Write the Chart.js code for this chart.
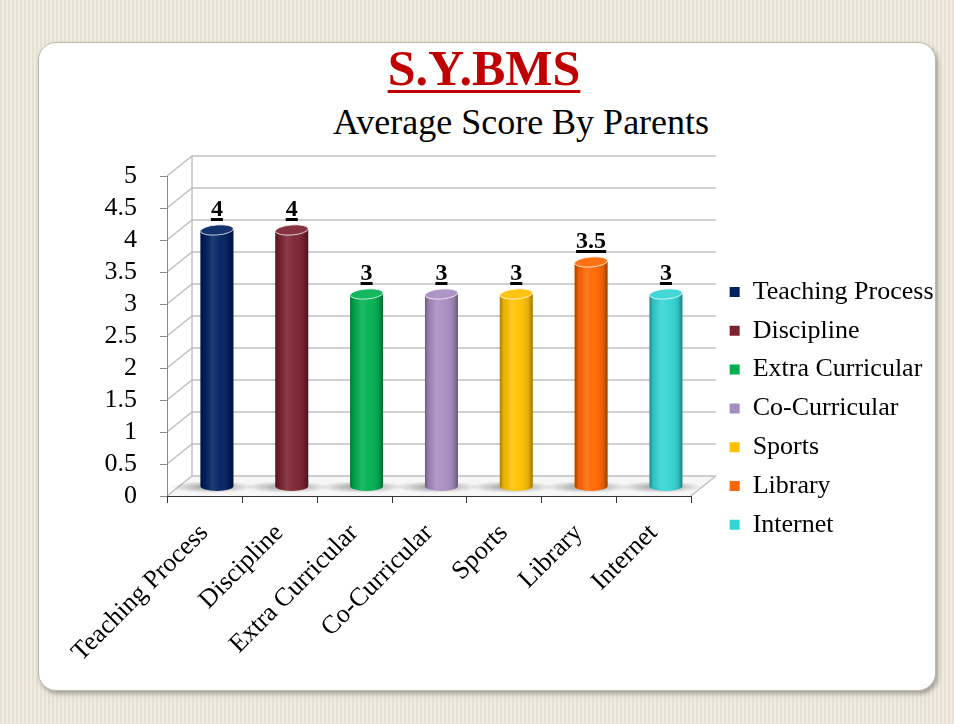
<!DOCTYPE html>
<html>
<head>
<meta charset="utf-8">
<title>S.Y.BMS - Average Score By Parents</title>
<script src="https://cdn.jsdelivr.net/npm/chart.js@4.4.0/dist/chart.umd.min.js"></script>
<style>
  html, body { margin: 0; padding: 0; }
  body {
    width: 954px; height: 724px; overflow: hidden; position: relative;
    background-color: #e9e4d7;
    background-image: repeating-linear-gradient(90deg, #e6e1d3 0 2px, #efebe2 2px 4px);
  }
  #card {
    position: absolute; left: 38px; top: 42px; width: 896px; height: 647px;
    background: #fff; border: 1px solid #bdb9b0; border-radius: 18px;
    box-shadow: 2px 3px 4px rgba(0,0,0,0.3);
  }
  .ttl { position: absolute; left: 0; width: 954px; white-space: nowrap; font-family: 'Liberation Serif', 'Times New Roman', serif; }
  #main { top: 43px; font-size: 50px; line-height: 50px; font-weight: bold; color: #c00000; }
  #main span { position: absolute; left: 484px; transform: translateX(-50%); text-decoration: underline; text-decoration-thickness: 3px; text-underline-offset: 5px; }
  #sub { top: 104px; font-size: 36px; line-height: 36px; color: #000; }
  #sub span { position: absolute; left: 521px; transform: translateX(-50%); }
  #chart { position: absolute; left: 0; top: 0; }
</style>
</head>
<body>
<div id="card"></div>
<div class="ttl" id="main"><span>S.Y.BMS</span></div>
<div class="ttl" id="sub"><span>Average Score By Parents</span></div>
<canvas id="chart" width="954" height="724"></canvas>
<script>
const categories = ["Teaching Process", "Discipline", "Extra Curricular", "Co-Curricular", "Sports", "Library", "Internet"];
const scores = [4, 4, 3, 3, 3, 3.5, 3];
const scoreLabels = ["4", "4", "3", "3", "3", "3.5", "3"];
const yTickLabels = ["0", "0.5", "1", "1.5", "2", "2.5", "3", "3.5", "4", "4.5", "5"];
const barColors = ["#002060", "#7b2230", "#00b050", "#a68dc0", "#ffc000", "#ff6600", "#33d4d4"];

const depth = { dx: 25, dy: -20 }; // offset of back wall
const serif = "'Liberation Serif', 'Times New Roman', serif";

function shade(hex, amt) {
    const n = parseInt(hex.slice(1), 16);
    let r = n >> 16, g = (n >> 8) & 255, b = n & 255;
    const t = amt < 0 ? 0 : 255, p = Math.abs(amt);
    r = Math.round((t - r) * p + r);
    g = Math.round((t - g) * p + g);
    b = Math.round((t - b) * p + b);
    return `rgb(${r},${g},${b})`;
}

function line(ctx, x1, y1, x2, y2) {
    ctx.beginPath();
    ctx.moveTo(x1, y1);
    ctx.lineTo(x2, y2);
    ctx.stroke();
}

const wallPlugin = {
    id: "wall",
    beforeDatasetsDraw(chart) {
        const { ctx, chartArea: a, scales: { y } } = chart;
        const { dx, dy } = depth;
        const yTop = y.getPixelForValue(5);
        ctx.save();

        // floor
        ctx.beginPath();
        ctx.moveTo(a.left, a.bottom);
        ctx.lineTo(a.right, a.bottom);
        ctx.lineTo(a.right + dx, a.bottom + dy);
        ctx.lineTo(a.left + dx, a.bottom + dy);
        ctx.closePath();
        ctx.fillStyle = "#f6f6f6";
        ctx.fill();

        // back wall grid + side slants
        ctx.strokeStyle = "#c0c0c0";
        ctx.lineWidth = 1.5;
        y.ticks.forEach(t => {
            const py = y.getPixelForValue(t.value);
            ctx.beginPath();
            ctx.moveTo(a.left, py);
            ctx.lineTo(a.left + dx, py + dy);
            ctx.lineTo(a.right + dx, py + dy);
            ctx.stroke();
        });
        line(ctx, a.left + dx, yTop + dy, a.left + dx, a.bottom + dy);
        line(ctx, a.right, a.bottom, a.right + dx, a.bottom + dy);

        // front axes
        ctx.lineWidth = 1;
        ctx.strokeStyle = "#8a8a8a";
        line(ctx, a.left + 0.5, yTop, a.left + 0.5, a.bottom);
        y.ticks.forEach(t => {
            const py = Math.round(y.getPixelForValue(t.value)) + 0.5;
            line(ctx, a.left - 7, py, a.left, py);
        });
        ctx.strokeStyle = "#333";
        line(ctx, a.left, a.bottom + 0.5, a.right, a.bottom + 0.5);
        const cw = (a.right - a.left) / categories.length;
        for (let i = 0; i <= categories.length; i++) {
            const px = Math.round(a.left + i * cw) + 0.5;
            line(ctx, px, a.bottom, px, a.bottom + 7);
        }

        // bar shadows on the floor
        chart.getDatasetMeta(0).data.forEach(bar => {
            ctx.save();
            ctx.translate(bar.x + dx / 2 - 5, bar.base + dy / 2 + 1);
            ctx.scale(1, 0.14);
            const g = ctx.createRadialGradient(0, 0, 0, 0, 0, 42);
            g.addColorStop(0, "rgba(0,0,0,0.4)");
            g.addColorStop(1, "rgba(0,0,0,0)");
            ctx.fillStyle = g;
            ctx.beginPath();
            ctx.arc(0, 0, 42, 0, Math.PI * 2);
            ctx.fill();
            ctx.restore();
        });
        ctx.restore();
    },
    beforeDatasetDraw(chart) {
        chart.ctx.save();
        chart.ctx.translate(depth.dx / 2, depth.dy / 2);
    },
    afterDatasetDraw(chart, args) {
        const ctx = chart.ctx;
        args.meta.data.forEach((bar, i) => {
            const c = barColors[i];
            const w = bar.width, l = bar.x - w / 2, r = bar.x + w / 2, ry = 5;
            // rounded bottom
            ctx.fillStyle = c;
            ctx.beginPath();
            ctx.ellipse(bar.x, bar.base, w / 2, ry, 0, 0, Math.PI);
            ctx.fill();
            // cylinder shading
            const g = ctx.createLinearGradient(l, 0, r, 0);
            g.addColorStop(0, "rgba(0,0,0,0.35)");
            g.addColorStop(0.12, "rgba(0,0,0,0.08)");
            g.addColorStop(0.35, "rgba(255,255,255,0.12)");
            g.addColorStop(0.6, "rgba(255,255,255,0.04)");
            g.addColorStop(0.88, "rgba(0,0,0,0.12)");
            g.addColorStop(1, "rgba(0,0,0,0.4)");
            ctx.fillStyle = g;
            ctx.beginPath();
            ctx.moveTo(l, bar.y);
            ctx.lineTo(l, bar.base);
            ctx.ellipse(bar.x, bar.base, w / 2, ry, 0, Math.PI, 0, true);
            ctx.lineTo(r, bar.y);
            ctx.closePath();
            ctx.fill();
            // top cap
            ctx.fillStyle = shade(c, 0.08);
            ctx.strokeStyle = "rgba(255,255,255,0.75)";
            ctx.lineWidth = 1;
            ctx.beginPath();
            ctx.ellipse(bar.x, bar.y, w / 2, ry, -0.08, 0, Math.PI * 2);
            ctx.fill();
            ctx.stroke();
        });
        ctx.restore();
    },
    afterDatasetsDraw(chart) {
        const ctx = chart.ctx;
        ctx.save();
        ctx.font = `bold 24px ${serif}`;
        ctx.fillStyle = "#000";
        ctx.textAlign = "center";
        ctx.textBaseline = "alphabetic";
        chart.getDatasetMeta(0).data.forEach((bar, i) => {
            const tx = bar.x + depth.dx / 2, ty = bar.y + depth.dy / 2 - 14;
            const txt = scoreLabels[i];
            ctx.fillText(txt, tx, ty);
            const tw = ctx.measureText(txt).width;
            ctx.fillRect(tx - tw / 2, ty + 2, tw, 3);
        });
        ctx.restore();
    }
};

new Chart(document.getElementById("chart"), {
    type: "bar",
    data: {
        labels: categories,
        datasets: [{
            data: scores,
            backgroundColor: barColors,
            borderWidth: 0,
            barPercentage: 0.44,
            categoryPercentage: 1,
            clip: false
        }]
    },
    options: {
        responsive: false,
        animation: false,
        layout: { padding: { left: 0, top: 176, right: 10.5, bottom: 48 } },
        plugins: {
            title: { display: false },
            tooltip: { enabled: false },
            legend: {
                position: "right",
                align: "start",
                maxWidth: 240,
                title: { display: true, text: "", font: { size: 12 }, padding: { top: 75.8, bottom: 0 } },
                labels: {
                    boxWidth: 10,
                    boxHeight: 10,
                    padding: 12.8,
                    color: "#000",
                    font: { family: serif, size: 26 },
                    generateLabels: () => categories.map((c, i) => ({
                        text: c, fillStyle: barColors[i], strokeStyle: barColors[i],
                        fontColor: "#000", lineWidth: 0, hidden: false, index: i
                    }))
                }
            }
        },
        scales: {
            x: {
                offset: true,
                grid: { display: false },
                border: { display: false },
                ticks: {
                    color: "#000",
                    font: { family: serif, size: 26 },
                    minRotation: 45,
                    maxRotation: 45,
                    padding: 14
                },
                afterFit(s) { s.height = 180; }
            },
            y: {
                min: 0,
                max: 5,
                grid: { display: false },
                border: { display: false },
                ticks: {
                    stepSize: 0.5,
                    autoSkip: false,
                    color: "#000",
                    font: { family: serif, size: 26 },
                    padding: 22,
                    callback: (v, i) => yTickLabels[i]
                },
                afterFit(s) { s.width = 167; }
            },
            yR: {
                type: "linear",
                position: "right",
                grid: { display: false },
                border: { display: false },
                ticks: { display: false },
                afterFit(s) { s.width = 26; }
            }
        }
    },
    plugins: [wallPlugin]
});
</script>
</body>
</html>
